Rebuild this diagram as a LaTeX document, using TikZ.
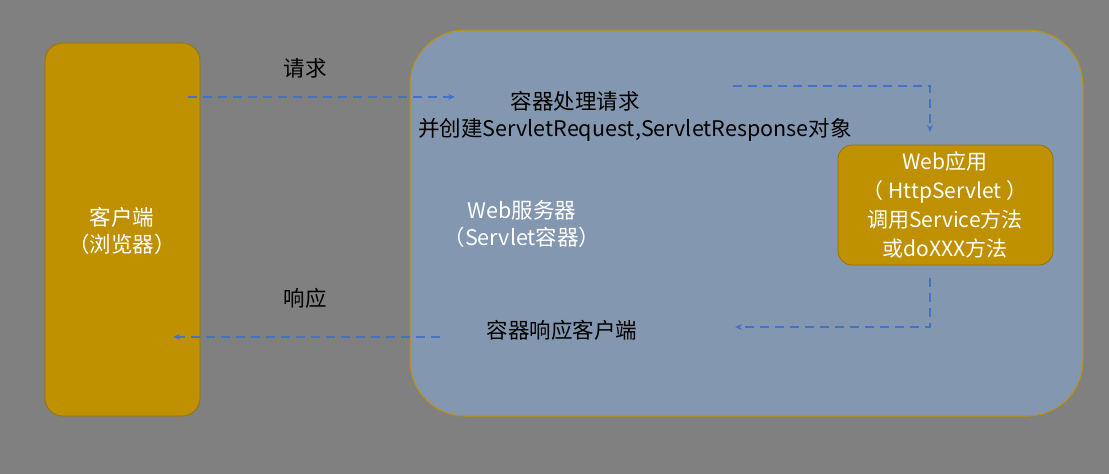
\documentclass[tikz,border=0pt]{standalone}
\usepackage{fontspec}
\setmainfont{Noto Sans CJK SC}
\usetikzlibrary{arrows.meta}
\definecolor{bg}{HTML}{808080}
\definecolor{gold}{HTML}{BF9000}
\definecolor{srv}{HTML}{8497B0}
\definecolor{arr}{HTML}{4472C4}
\tikzset{
  lbl/.style={font=\fontsize{21.5}{27}\selectfont, text=black, align=center},
  wlbl/.style={font=\fontsize{21.5}{27}\selectfont, text=white, align=center},
  flow/.style={arr, line width=1.3pt, dash pattern=on 9pt off 6pt, -{Stealth[length=7pt,width=6pt]}}
}
\begin{document}
\begin{tikzpicture}[x=1pt,y=-1pt]
\fill[bg] (0,0) rectangle (1109,474);
\useasboundingbox (0,0) rectangle (1109,474);
\draw[gold!80!black, fill=gold, rounded corners=18pt, line width=0.8pt] (45,43) rectangle (200,416);
\node[wlbl] (client) at (122,231) {客户端\\（浏览器）};
\draw[gold, fill=srv, rounded corners=55pt, line width=1pt] (410,30) rectangle (1083,416);
\draw[gold!80!black, fill=gold, rounded corners=14pt, line width=0.8pt] (838,145) rectangle (1053,265);
\node[wlbl, font=\fontsize{21}{29}\selectfont] (app) at (945,205) {Web应用\\（ HttpServlet ）\\调用Service方法\\或doXXX方法};
\node[wlbl] (srvl) at (522,224) {Web服务器\\（Servlet容器）};
\node[lbl] (req) at (305,68) {请求};
\node[lbl] (proc1) at (575,101) {容器处理请求};
\node[lbl] (proc2) at (635,130) {并创建ServletRequest,ServletResponse对象};
\node[lbl] (resp) at (305,298) {响应};
\node[lbl] (back) at (562,330) {容器响应客户端};
\coordinate (a1) at (188,97); \coordinate (a2) at (455,97);
\coordinate (b1) at (733,86); \coordinate (b2) at (930,86); \coordinate (b3) at (930,132);
\coordinate (c1) at (930,278); \coordinate (c2) at (930,327); \coordinate (c3) at (735,327);
\coordinate (d1) at (440,337); \coordinate (d2) at (173,337);
\draw[flow] (a1) -- (a2);
\draw[flow] (b1) -- (b2) -- (b3);
\draw[flow] (c1) -- (c2) -- (c3);
\draw[flow] (d1) -- (d2);
\end{tikzpicture}
\end{document}
